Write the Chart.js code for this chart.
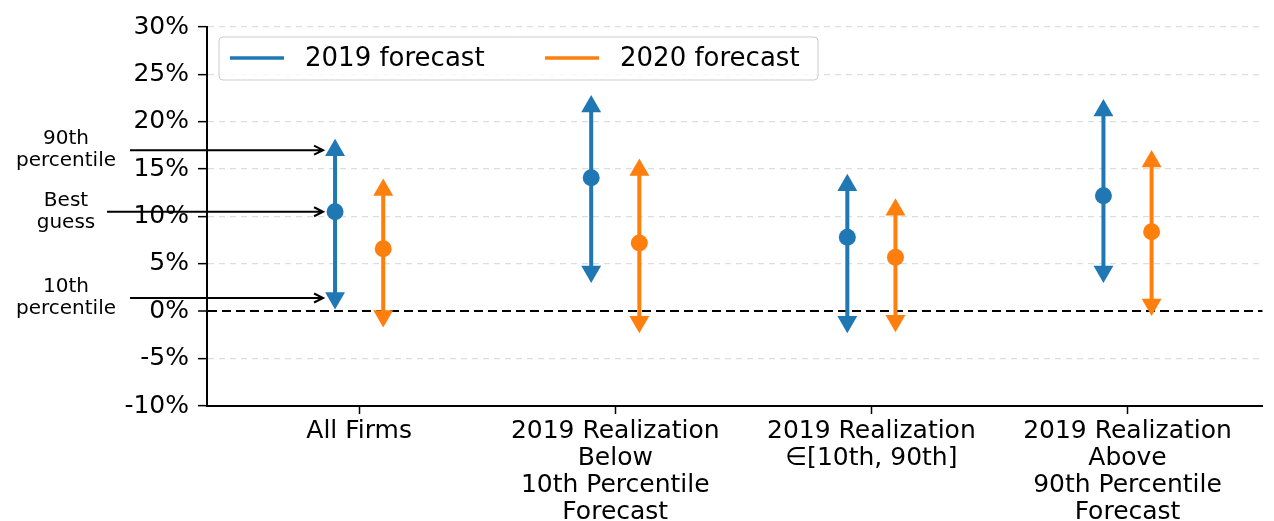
<!DOCTYPE html>
<html>
<head>
<meta charset="utf-8">
<script src="https://cdn.jsdelivr.net/npm/chart.js@4.4.1/dist/chart.umd.min.js"></script>
<style>
  html, body { margin: 0; padding: 0; background: #fff; overflow: hidden; }
  canvas { display: block; }
</style>
</head>
<body>
<canvas id="chart" width="1274" height="521"></canvas>
<script>
const categories = [
  'All Firms',
  ['2019 Realization', 'Below', '10th Percentile', 'Forecast'],
  ['2019 Realization', '\u2208[10th, 90th]'],
  ['2019 Realization', 'Above', '90th Percentile', 'Forecast']
];
const seriesNames = ['2019 forecast', '2020 forecast'];
const best2019 = [10.5, 14.1, 7.8, 12.2];
const p10_2019 = [1.4, 4.2, -1.1, 4.2];
const p90_2019 = [17.0, 21.6, 13.3, 21.2];
const best2020 = [6.6, 7.2, 5.7, 8.4];
const p10_2020 = [-0.5, -1.1, -1.0, 0.7];
const p90_2020 = [12.8, 14.9, 10.7, 15.8];
const yTicks = [-10, -5, 0, 5, 10, 15, 20, 25, 30];
const noteLabels = [['90th', 'percentile'], ['Best', 'guess'], ['10th', 'percentile']];

const BLUE = '#1f77b4';
const ORANGE = '#ff7f0e';
const SHIFT = 0.094;

Chart.defaults.font.family = "'DejaVu Sans', sans-serif";
Chart.defaults.font.size = 25;
Chart.defaults.color = '#000';

// vertical segment p10 -> p90 for each category, broken by nulls
function rangeLine(lo, hi, shift) {
  const pts = [];
  lo.forEach((v, i) => {
    pts.push({x: i + shift, y: v}, {x: i + shift, y: hi[i]}, {x: i + shift, y: null});
  });
  return pts;
}
function pointsAt(vals, shift) {
  return vals.map((v, i) => ({x: i + shift, y: v}));
}

function seriesSets(name, color, lo, best, hi, shift) {
  return [
    {
      type: 'line', label: name, data: rangeLine(lo, hi, shift),
      borderColor: color, borderWidth: 4, pointRadius: 0, spanGaps: false, order: 5
    },
    {
      type: 'scatter', label: name + ' p90', data: pointsAt(hi, shift),
      backgroundColor: color, borderColor: color, pointStyle: 'triangle',
      pointRadius: 11.5, borderWidth: 0, order: 1
    },
    {
      type: 'scatter', label: name + ' p10', data: pointsAt(lo, shift),
      backgroundColor: color, borderColor: color, pointStyle: 'triangle',
      rotation: 180, pointRadius: 11.5, borderWidth: 0, order: 1
    },
    {
      type: 'scatter', label: name + ' best', data: pointsAt(best, shift),
      backgroundColor: color, borderColor: color, pointStyle: 'circle',
      pointRadius: 8.5, borderWidth: 0, order: 1
    }
  ];
}

const legendBox = {
  id: 'legendBox',
  afterDraw(chart) {
    const {ctx, chartArea} = chart;
    const x = chartArea.left + 12, y = chartArea.top + 10;
    ctx.save();
    ctx.beginPath();
    ctx.roundRect(x, y, 599, 43, 4);
    ctx.fillStyle = 'rgba(255,255,255,0.8)';
    ctx.fill();
    ctx.strokeStyle = '#cccccc';
    ctx.lineWidth = 1;
    ctx.stroke();
    const items = [[seriesNames[0], BLUE, x + 11], [seriesNames[1], ORANGE, x + 326]];
    ctx.font = "26px 'DejaVu Sans'";
    ctx.textBaseline = 'middle';
    items.forEach(([txt, col, lx]) => {
      ctx.beginPath();
      ctx.moveTo(lx, y + 21);
      ctx.lineTo(lx + 54, y + 21);
      ctx.strokeStyle = col;
      ctx.lineWidth = 3.5;
      ctx.stroke();
      ctx.fillStyle = '#000';
      ctx.fillText(txt, lx + 75, y + 22);
    });
    ctx.restore();
  }
};

const notes = {
  id: 'notes',
  afterDraw(chart) {
    const {ctx, scales} = chart;
    const xs = scales.x, ys = scales.y;
    const tipX = xs.getPixelForValue(0 - SHIFT) - 12;
    const targets = [p90_2019[0], best2019[0], p10_2019[0]];
    const starts = [130, 107, 130];
    ctx.save();
    ctx.strokeStyle = '#000';
    ctx.fillStyle = '#000';
    ctx.lineWidth = 2;
    ctx.font = "20px 'DejaVu Sans'";
    ctx.textAlign = 'center';
    ctx.textBaseline = 'middle';
    targets.forEach((v, k) => {
      const yy = ys.getPixelForValue(v);
      ctx.beginPath();
      ctx.moveTo(starts[k], yy);
      ctx.lineTo(tipX, yy);
      ctx.moveTo(tipX - 9, yy - 4.5);
      ctx.lineTo(tipX, yy);
      ctx.lineTo(tipX - 9, yy + 4.5);
      ctx.stroke();
      ctx.fillText(noteLabels[k][0], 66, yy - 11);
      ctx.fillText(noteLabels[k][1], 66, yy + 11);
    });
    ctx.restore();
  }
};

new Chart(document.getElementById('chart'), {
  data: {
    datasets: [
      ...seriesSets(seriesNames[0], BLUE, p10_2019, best2019, p90_2019, -SHIFT),
      ...seriesSets(seriesNames[1], ORANGE, p10_2020, best2020, p90_2020, SHIFT)
    ]
  },
  options: {
    responsive: false,
    animation: false,
    layout: { padding: { top: 27, right: 0, left: 0, bottom: 0 } },
    plugins: {
      legend: { display: false },
      tooltip: { enabled: false }
    },
    scales: {
      x: {
        type: 'linear',
        min: -0.594,
        max: 3.527,
        afterBuildTicks: (s) => { s.ticks = categories.map((c, i) => ({value: i})); },
        afterFit: (s) => { s.height = 115; },
        ticks: {
          callback: (v) => categories[v],
          maxRotation: 0,
          autoSkip: false,
          padding: 4,
          font: { size: 25, lineHeight: 1.08 }
        },
        grid: { drawOnChartArea: false, tickLength: 8, tickColor: '#000', tickWidth: 1.5 },
        border: { color: '#000', width: 2 }
      },
      y: {
        min: -10,
        max: 30,
        afterBuildTicks: (s) => { s.ticks = yTicks.map(v => ({value: v})); },
        afterFit: (s) => { s.width = 207; },
        ticks: { callback: (v) => v + '%', padding: 9 },
        grid: {
          color: (c) => (c.tick && c.tick.value === 0) ? '#000' : '#dddddd',
          lineWidth: (c) => (c.tick && c.tick.value === 0) ? 2 : 1.3,
          tickLength: 9,
          tickColor: '#000',
          tickWidth: 1.5
        },
        border: {
          color: '#000',
          width: 2,
          dash: (c) => (c.tick && c.tick.value === 0) ? [9, 5] : [6, 5]
        }
      }
    }
  },
  plugins: [legendBox, notes]
});
</script>
</body>
</html>
